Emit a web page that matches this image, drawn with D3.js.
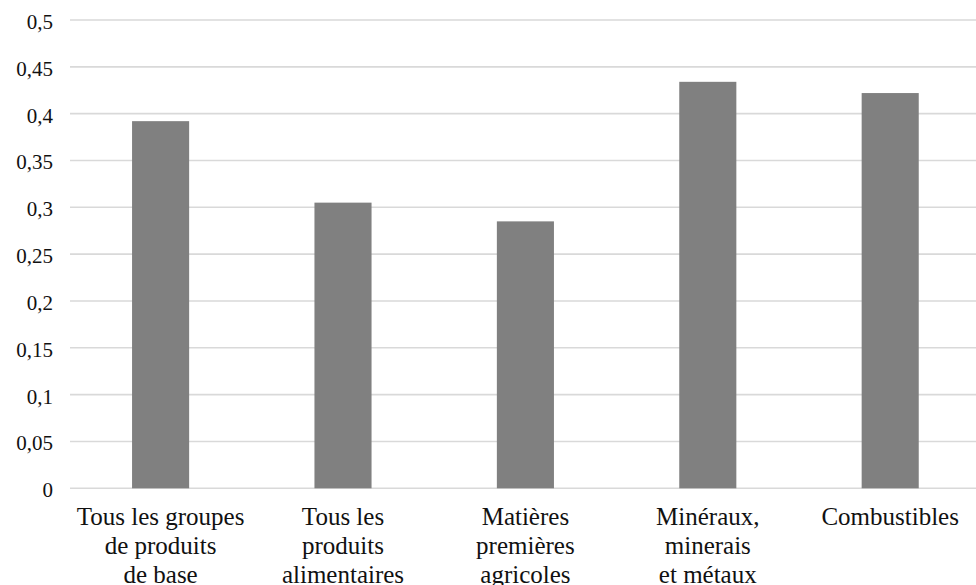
<!DOCTYPE html>
<html><head><meta charset="utf-8">
<script src="https://cdn.jsdelivr.net/npm/d3@7"></script>
<style>
svg text, svg tspan { font-family: "Liberation Serif" !important; }
</style>
</head>
<body style="margin:0">
<svg id="chart" width="976" height="585"></svg>
<script>
const categories = [
  ["Tous les groupes","de produits","de base"],
  ["Tous les","produits","alimentaires"],
  ["Matières","premières","agricoles"],
  ["Minéraux,","minerais","et métaux"],
  ["Combustibles"]
];
const values = [0.392, 0.305, 0.285, 0.434, 0.422];
const tickValues = [0,0.05,0.1,0.15,0.2,0.25,0.3,0.35,0.4,0.45,0.5];
const tickLabels = ["0","0,05","0,1","0,15","0,2","0,25","0,3","0,35","0,4","0,45","0,5"];

const svg = d3.select("#chart");
const plotLeft = 69.4, plotRight = 981.4, plotTop = 20, plotBottom = 488.3;

const xScale = d3.scaleBand().domain(d3.range(values.length)).range([plotLeft, plotRight]).padding(0);
const yScale = d3.scaleLinear().domain([0,0.5]).range([plotBottom, plotTop]);
const barW = xScale.bandwidth() * 0.313;

// gridlines
svg.selectAll("line.grid").data(tickValues).join("line")
  .attr("class", "grid")
  .attr("x1", 70).attr("x2", 976)
  .attr("y1", d => yScale(d)).attr("y2", d => yScale(d))
  .attr("stroke", "#d9d9d9").attr("stroke-width", 1.6);

// bars
svg.selectAll("rect.bar").data(values).join("rect")
  .attr("class", "bar")
  .attr("x", (d,i) => xScale(i) + xScale.bandwidth()/2 - barW/2)
  .attr("width", barW)
  .attr("y", d => yScale(d))
  .attr("height", d => yScale(0) - yScale(d))
  .attr("fill", "#808080");

// y tick labels
svg.selectAll("text.ytick").data(tickValues).join("text")
  .attr("class", "ytick")
  .attr("x", 53).attr("y", d => yScale(d) + 9)
  .attr("text-anchor", "end")
  .attr("font-size", 21)
  .attr("font-family", "Liberation Serif")
  .style("font-family", "Liberation Serif")
  .attr("fill", "#111")
  .text((d,i) => tickLabels[i]);

// category labels (one text per line)
const lines = [];
categories.forEach((c, i) => c.forEach((t, j) => lines.push({i, j, t})));
svg.selectAll("text.cat").data(lines).join("text")
  .attr("class", "cat")
  .attr("text-anchor", "middle")
  .attr("font-size", 25)
  .attr("font-family", "Liberation Serif")
  .style("font-family", "Liberation Serif")
  .attr("fill", "#111")
  .attr("x", d => xScale(d.i) + xScale.bandwidth()/2)
  .attr("y", d => 525 + d.j * 29)
  .text(d => d.t);
</script>
</body></html>
